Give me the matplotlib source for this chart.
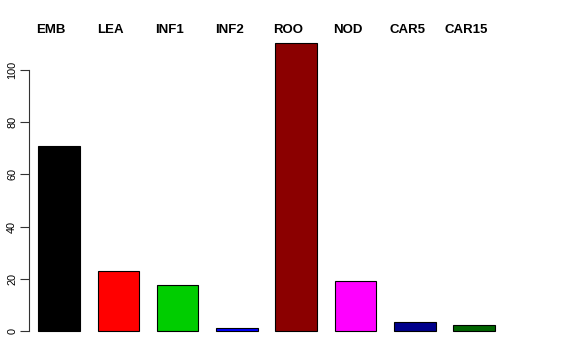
import matplotlib
matplotlib.use('Agg')
import matplotlib.pyplot as plt
import matplotlib.transforms as mtransforms

names = ['EMB', 'LEA', 'INF1', 'INF2', 'ROO', 'NOD', 'CAR5', 'CAR15']
values = [70.9, 23.0, 17.6, 1.2, 110.3, 19.2, 3.8, 2.3]
colors = ['#000000', '#FF0000', '#00CD00', '#0000FF', '#8B0000', '#FF00FF', '#00008B', '#006400']
yticks = [0, 20, 40, 60, 80, 100]

W, H = 576, 360
fig = plt.figure(figsize=(W / 100, H / 100), dpi=100)

# plot region in pixels (R style)
left_px, right_px, top_px, bottom_px = 29, 560, 31, 343
ax = fig.add_axes([left_px / W, (H - bottom_px) / H,
                   (right_px - left_px) / W, (bottom_px - top_px) / H])

pos = list(range(len(names)))
ax.bar(pos, values, width=0.7, color=colors, edgecolor='black', linewidth=0.8)

step = 59.3
ax.set_xlim((left_px - 59) / step, (right_px - 59) / step)
ax.set_ylim(-4.4, 114.7)

for s in ['top', 'right', 'bottom']:
    ax.spines[s].set_visible(False)
ax.spines['left'].set_bounds(0, 100)
ax.spines['left'].set_linewidth(0.8)
ax.spines['left'].set_color('#333333')
ax.set_xticks([])
ax.set_yticks(yticks)
ax.set_yticklabels([str(t) for t in yticks], rotation=90, va='center',
                   fontsize=7.8, family='Liberation Sans')
ax.tick_params(axis='y', length=6.5, width=0.8, pad=2, color='#333333')

trans = mtransforms.blended_transform_factory(ax.transData, ax.transAxes)
for i, n in enumerate(names):
    ax.text(i - 0.13, (bottom_px - 30) / (bottom_px - top_px), n, transform=trans,
            ha='center', va='center', fontsize=9.5, fontweight='bold',
            family='Liberation Sans')

fig.savefig('out.png', dpi=100)
